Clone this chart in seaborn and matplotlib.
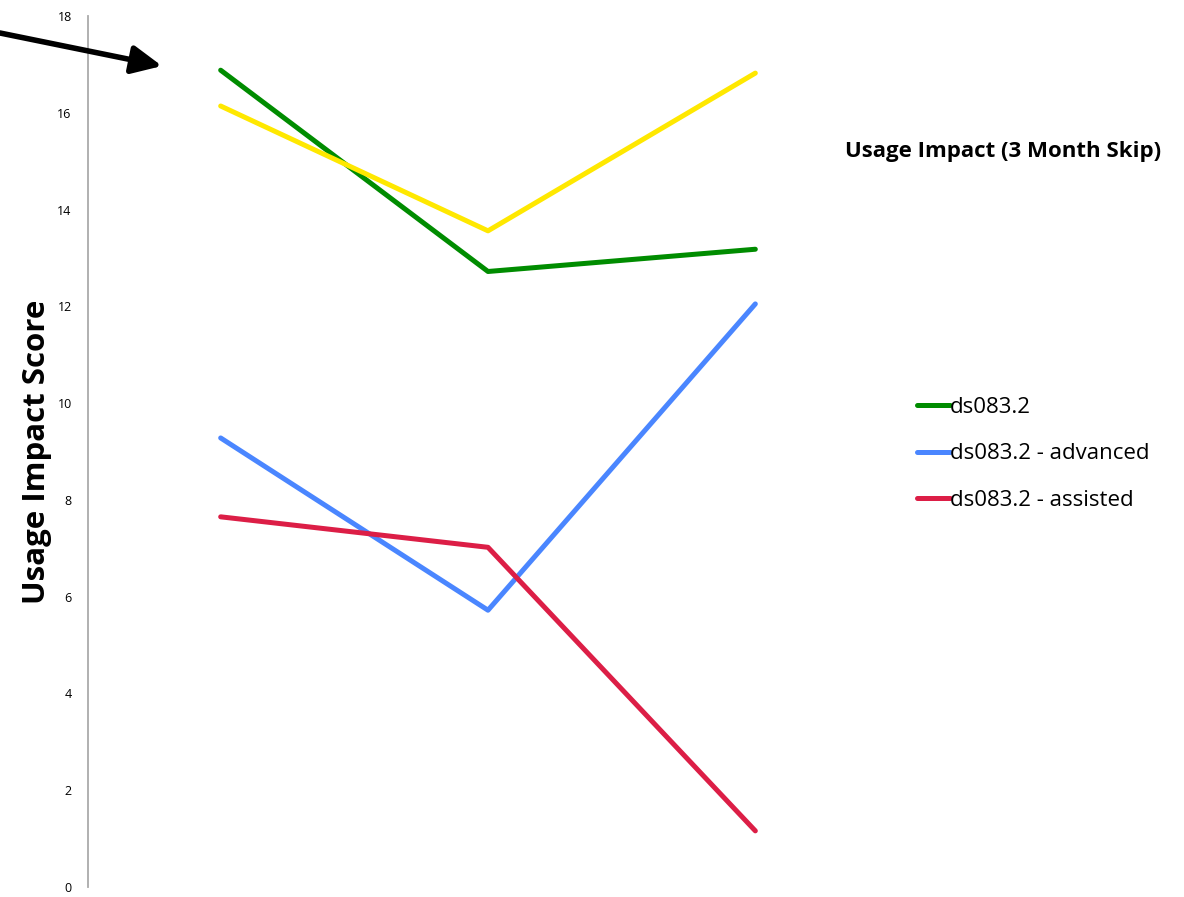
import matplotlib
matplotlib.use('Agg')
import matplotlib.pyplot as plt
import seaborn as sns
import pandas as pd
from matplotlib.lines import Line2D

sns.set_style("white")
plt.rcParams['font.family'] = ['Open Sans', 'DejaVu Sans']
plt.rcParams['text.color'] = 'black'
plt.rcParams['axes.labelcolor'] = 'black'
plt.rcParams['ytick.color'] = 'black'

# data
steps = [0, 1, 2]
green = [16.88, 12.72, 13.18]
yellow = [16.14, 13.56, 16.82]
blue = [9.28, 5.72, 12.05]
red = [7.65, 7.02, 1.16]

series_names = ['ds083.2', 'unlabelled', 'ds083.2 - advanced', 'ds083.2 - assisted']
series_values = [green, yellow, blue, red]
series_colors = ['#008c00', '#ffe800', '#4a86ff', '#dc1e46']
legend_names = ['ds083.2', 'ds083.2 - advanced', 'ds083.2 - assisted']

rows = []
for name, vals in zip(series_names, series_values):
    for s, v in zip(steps, vals):
        rows.append({'step': s, 'score': v, 'series': name})
df = pd.DataFrame(rows)
palette = dict(zip(series_names, series_colors))

fig = plt.figure(figsize=(11.84, 8.97), dpi=100)
ax = fig.add_axes([87 / 1184, 1 - 887 / 897, 802 / 1184, 871 / 897])

sns.lineplot(data=df, x='step', y='score', hue='series', hue_order=series_names,
             palette=palette, linewidth=3.6, legend=False, ax=ax)

ax.set_xlim(-0.5, 2.5)
ax.set_ylim(0, 18)
ax.set_yticks(range(0, 19, 2))
ax.set_xticks([])
ax.set_xlabel('')
ax.set_ylabel('Usage Impact Score', fontsize=22.5, fontweight='bold', labelpad=4)
ax.tick_params(axis='y', length=0, labelsize=9, pad=12)
for side in ['top', 'right', 'bottom']:
    ax.spines[side].set_visible(False)
ax.spines['left'].set_color('#aaaaaa')
ax.spines['left'].set_linewidth(1.3)
ax.spines['left'].set_position(('data', -0.495))

# legend without the yellow series
handles = [Line2D([0], [0], color=palette[n], linewidth=3.6) for n in legend_names]
fig.legend(handles, legend_names, loc='upper left', bbox_to_anchor=(908 / 1184, 1 - 388 / 897),
           frameon=False, fontsize=16, handlelength=1.5, handletextpad=0.0,
           labelspacing=1.15, borderaxespad=0)

fig.text(1003 / 1184, 1 - 152 / 897, 'Usage Impact (3 Month Skip)', fontsize=16,
         fontweight='bold', ha='center', va='center')

ax.annotate('', xy=(162, 897 - 66), xytext=(0, 897 - 33),
            xycoords='figure pixels', textcoords='figure pixels',
            arrowprops=dict(arrowstyle='-|>,head_length=1.8,head_width=0.85',
                            color='black', linewidth=4, shrinkA=0, shrinkB=0))

fig.savefig('out.png', dpi=100)
